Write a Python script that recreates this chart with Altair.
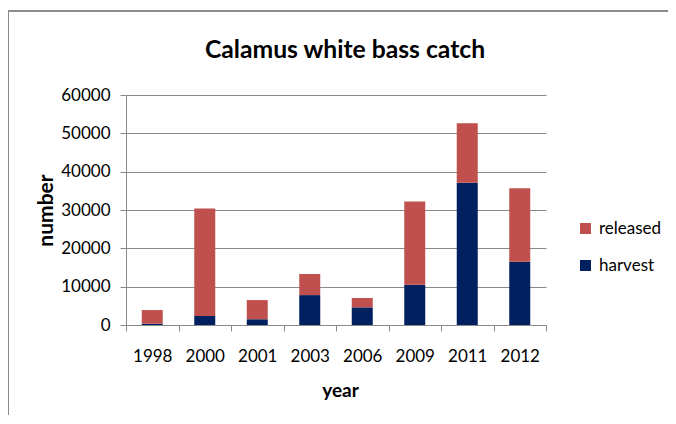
import altair as alt
import pandas as pd

years = ["1998", "2000", "2001", "2003", "2006", "2009", "2011", "2012"]
harvest = [350, 2350, 1500, 7800, 4600, 10500, 37100, 16500]
released = [3550, 28050, 5000, 5500, 2450, 21700, 15500, 19200]
series = ["released", "harvest"]
colors = ["#C0504D", "#002060"]
y_ticks = [0, 10000, 20000, 30000, 40000, 50000, 60000]
title_text = "Calamus white bass catch"

rows = []
for i, yr in enumerate(years):
    rows.append({"year": yr, "type": "harvest", "number": harvest[i], "ord": 0})
    rows.append({"year": yr, "type": "released", "number": released[i], "ord": 1})
df = pd.DataFrame(rows)

FONT = "Lato, Open Sans, sans-serif"
GRAY = "#898989"

bars = alt.Chart(df).mark_bar(width={"band": 0.4}).encode(
    x=alt.X("year:N", sort=years,
            scale=alt.Scale(paddingInner=0, paddingOuter=0),
            axis=alt.Axis(title="year", labelAngle=0, tickBand="extent",
                          titleX=214, titleY=71, titleBaseline="alphabetic")),
    y=alt.Y("number:Q", stack="zero",
            scale=alt.Scale(domain=[0, 60000], nice=False),
            axis=alt.Axis(title="number", values=y_ticks, format="d",
                          titleX=-74, titleY=115, titleAngle=-90, titleFontSize=21,
                          titleAlign="center", titleBaseline="alphabetic")),
    color=alt.Color("type:N", scale=alt.Scale(domain=series, range=colors),
                    legend=alt.Legend(title=None, orient="none", legendX=451, legendY=125,
                                      symbolType="square", symbolSize=121,
                                      symbolStrokeWidth=0, labelFontSize=17,
                                      labelFont=FONT, labelColor="#000000",
                                      rowPadding=19, labelOffset=5, padding=0)),
    order=alt.Order("ord:Q"),
)

title = alt.Chart(pd.DataFrame({"t": [title_text]})).mark_text(
    font=FONT, fontSize=24.7, fontWeight="bold", color="#000000",
    align="center", baseline="alphabetic"
).encode(text="t:N", x=alt.value(219), y=alt.value(-37))

border = alt.Chart(pd.DataFrame({"a": [1]})).mark_rect(
    filled=False, stroke="#8c8c8c", strokeWidth=2
).encode(
    x=alt.value(-118), x2=alt.value(600), y=alt.value(-84), y2=alt.value(360)
)

chart = alt.layer(border, bars, title).properties(
    width=420, height=230,
    padding={"left": 118, "top": 87, "right": 122, "bottom": 90},
    autosize=alt.AutoSizeParams(type="none"),
).configure_view(stroke=None).configure_axis(
    labelFont=FONT, labelFontSize=17, labelColor="#000000",
    titleFont=FONT, titleFontSize=19, titleFontWeight="bold", titleColor="#000000",
    domainColor=GRAY, tickColor=GRAY, gridColor=GRAY, tickSize=6,
).configure_axisY(
    labelPadding=10, grid=True
).configure_axisX(
    labelPadding=17, grid=False
)

chart.save("out.html", embed_options={"renderer": "svg", "actions": False})
